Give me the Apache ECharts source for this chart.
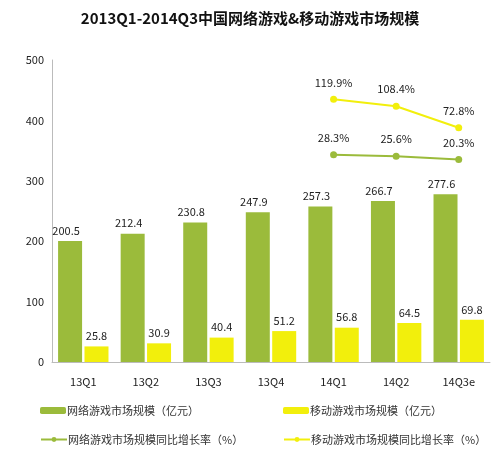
<!DOCTYPE html>
<html>
<head>
<meta charset="utf-8">
<script src="https://cdn.jsdelivr.net/npm/echarts@6/dist/echarts.min.js"></script>
</head>
<body style="margin:0">
<div id="main" style="width:500px;height:460px"></div>
<script>
var quarters = ['13Q1', '13Q2', '13Q3', '13Q4', '14Q1', '14Q2', '14Q3e']
var onlineSize = [200.5, 212.4, 230.8, 247.9, 257.3, 266.7, 277.6]
var mobileSize = [25.8, 30.9, 40.4, 51.2, 56.8, 64.5, 69.8]
var onlineGrowth = [null, null, null, null, 28.3, 25.6, 20.3]
var mobileGrowth = [null, null, null, null, 119.9, 108.4, 72.8]

var green = '#9bbb3b'
var yellow = '#f2ef0c'
var font = '"Noto Sans CJK SC", sans-serif'
var names = ['网络游戏市场规模（亿元）', '移动游戏市场规模（亿元）', '网络游戏市场规模同比增长率（%）', '移动游戏市场规模同比增长率（%）']

var myChart = echarts.init(document.getElementById('main'))
var option = {
    animation: false,
    textStyle: { fontFamily: font },
    title: {
        text: '2013Q1-2014Q3中国网络游戏&移动游戏市场规模',
        left: 'center', top: 6,
        textStyle: { fontSize: 15, fontWeight: 'bold', color: '#111', fontFamily: font }
    },
    legend: [
        { data: [names[0]], left: 35, top: 400, itemWidth: 26, itemHeight: 7 },
        { data: [names[1]], left: 278, top: 400, itemWidth: 26, itemHeight: 7 },
        { data: [names[2]], left: 35, top: 429, itemWidth: 26, itemHeight: 6 },
        { data: [names[3]], left: 278, top: 429, itemWidth: 26, itemHeight: 6 }
    ].map(function (l) {
        l.itemGap = 0
        l.textStyle = { fontSize: 11, color: '#333', padding: [0, 0, 0, -4] }
        return l
    }),
    grid: { left: 52, right: 10, top: 60, bottom: 98 },
    xAxis: {
        type: 'category',
        data: quarters,
        axisTick: { show: false },
        axisLine: { lineStyle: { color: '#bbb' } },
        axisLabel: { color: '#222', fontSize: 11, margin: 14 }
    },
    yAxis: [{
        type: 'value', min: 0, max: 500, interval: 100,
        axisLine: { show: true, lineStyle: { color: '#bbb' } },
        splitLine: { show: false },
        axisLabel: { color: '#222', fontSize: 11 }
    }, {
        type: 'value', min: -315, max: 185, show: false, splitLine: { show: false }
    }],
    series: [{
        name: names[0], type: 'bar', data: onlineSize, barWidth: 24, barGap: '10%',
        itemStyle: { color: green },
        label: { show: true, position: 'top', color: '#222', fontSize: 11, offset: [-4, 0] }
    }, {
        name: names[1], type: 'bar', data: mobileSize, barWidth: 24,
        itemStyle: { color: yellow },
        label: { show: true, position: 'top', color: '#222', fontSize: 11 }
    }, {
        name: names[2], type: 'line', yAxisIndex: 1, data: onlineGrowth,
        color: green, symbol: 'circle', symbolSize: 7, lineStyle: { width: 2 },
        label: { show: true, position: 'top', color: '#222', fontSize: 11, formatter: '{c}%', distance: 8 }
    }, {
        name: names[3], type: 'line', yAxisIndex: 1, data: mobileGrowth,
        color: yellow, symbol: 'circle', symbolSize: 7, lineStyle: { width: 2 },
        label: { show: true, position: 'top', color: '#222', fontSize: 11, formatter: '{c}%', distance: 8 }
    }]
}
myChart.setOption(option, true)
</script>
</body>
</html>
